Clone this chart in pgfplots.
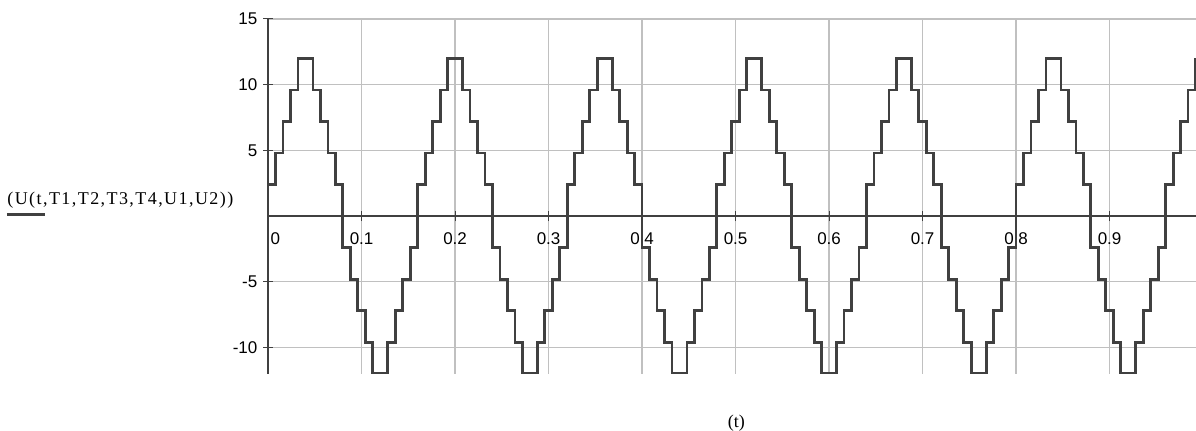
\documentclass[border=0pt]{standalone}
\usepackage{fontspec}
\setmainfont{Liberation Serif}
\newfontfamily\ticksans{Liberation Sans}
\usepackage{pgfplots}
\pgfplotsset{compat=1.18}
\definecolor{mcInk}{RGB}{64,64,64}
\definecolor{mcGrid}{RGB}{192,192,192}

\begin{document}
\begin{tikzpicture}
\useasboundingbox (-134.15pt,-28.5pt) rectangle (464.3pt,187pt);
\begin{axis}[
    at={(0,0)}, anchor=south west,
    scale only axis, width=464.3pt, height=177.5pt,
    xmin=0, xmax=0.9925, ymin=-12, ymax=15,
    axis x line=middle, axis y line=left,
    axis line style={-, draw=mcInk, line width=1pt},
    hide obscured x ticks=false, hide obscured y ticks=false,
    xtick={0,0.1,0.2,0.3,0.4,0.5,0.6,0.7,0.8,0.9},
    xticklabels={\makebox[0pt][l]{\hspace{1.3pt}0},0.1,0.2,0.3,0.4,0.5,0.6,0.7,0.8,0.9},
    ytick={-10,-5,5,10,15},
    yticklabels={-10,-5,5,10,15},
    tick align=center, major tick length=5pt,
    tick style={draw=mcInk, line width=0.5pt},
    grid=major, grid style={draw=mcGrid, line width=0.75pt},
    xticklabel style={font=\ticksans\fontsize{8.5pt}{10pt}\selectfont, anchor=north, inner sep=0pt, yshift=-5.5pt},
    yticklabel style={font=\ticksans\fontsize{8.5pt}{10pt}\selectfont, anchor=east, inner sep=0pt, xshift=-2.7pt},
]
\addplot[const plot, draw=mcInk, line width=1.4pt] coordinates {
    (0,2.4) (0.008,4.8) (0.016,7.2) (0.024,9.6) (0.032,12) (0.048,9.6) (0.056,7.2) (0.064,4.8) (0.072,2.4)
    (0.08,-2.4) (0.088,-4.8) (0.096,-7.2) (0.104,-9.6) (0.112,-12) (0.128,-9.6) (0.136,-7.2) (0.144,-4.8) (0.152,-2.4)
    (0.16,2.4) (0.168,4.8) (0.176,7.2) (0.184,9.6) (0.192,12) (0.208,9.6) (0.216,7.2) (0.224,4.8) (0.232,2.4)
    (0.24,-2.4) (0.248,-4.8) (0.256,-7.2) (0.264,-9.6) (0.272,-12) (0.288,-9.6) (0.296,-7.2) (0.304,-4.8) (0.312,-2.4)
    (0.32,2.4) (0.328,4.8) (0.336,7.2) (0.344,9.6) (0.352,12) (0.368,9.6) (0.376,7.2) (0.384,4.8) (0.392,2.4)
    (0.4,-2.4) (0.408,-4.8) (0.416,-7.2) (0.424,-9.6) (0.432,-12) (0.448,-9.6) (0.456,-7.2) (0.464,-4.8) (0.472,-2.4)
    (0.48,2.4) (0.488,4.8) (0.496,7.2) (0.504,9.6) (0.512,12) (0.528,9.6) (0.536,7.2) (0.544,4.8) (0.552,2.4)
    (0.56,-2.4) (0.568,-4.8) (0.576,-7.2) (0.584,-9.6) (0.592,-12) (0.608,-9.6) (0.616,-7.2) (0.624,-4.8) (0.632,-2.4)
    (0.64,2.4) (0.648,4.8) (0.656,7.2) (0.664,9.6) (0.672,12) (0.688,9.6) (0.696,7.2) (0.704,4.8) (0.712,2.4)
    (0.72,-2.4) (0.728,-4.8) (0.736,-7.2) (0.744,-9.6) (0.752,-12) (0.768,-9.6) (0.776,-7.2) (0.784,-4.8) (0.792,-2.4)
    (0.8,2.4) (0.808,4.8) (0.816,7.2) (0.824,9.6) (0.832,12) (0.848,9.6) (0.856,7.2) (0.864,4.8) (0.872,2.4)
    (0.88,-2.4) (0.888,-4.8) (0.896,-7.2) (0.904,-9.6) (0.912,-12) (0.928,-9.6) (0.936,-7.2) (0.944,-4.8) (0.952,-2.4)
    (0.96,2.4) (0.968,4.8) (0.976,7.2) (0.984,9.6) (0.992,12)
};
\end{axis}
% Mathcad-style trace label with its placeholder underline
\node[anchor=west, inner sep=0pt, font=\fontsize{9pt}{11pt}\selectfont\addfontfeatures{LetterSpace=8}] at (-130.65pt,87pt) {(U(t,T1,T2,T3,T4,U1,U2))};
\draw[mcInk, line width=1.5pt] (-130.65pt,79.5pt) -- (-111.65pt,79.5pt);
\node[inner sep=0pt, font=\fontsize{9pt}{11pt}\selectfont] at (234.35pt,-24.5pt) {(t)};
\end{tikzpicture}
\end{document}
